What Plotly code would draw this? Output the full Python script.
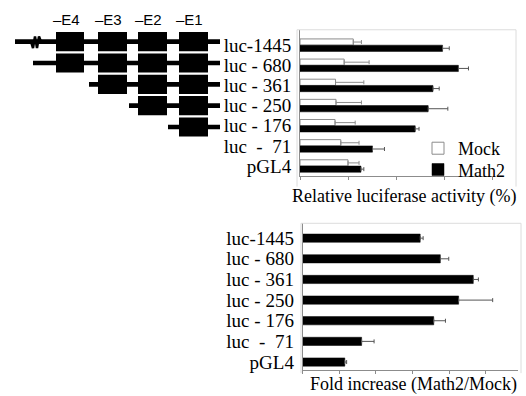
import plotly.graph_objects as go

W, H = 526, 396

# ---------------- data ----------------
constructs = ["luc-1445", "luc - 680", "luc - 361", "luc - 250", "luc - 176",
              "luc\u00a0\u00a0-\u00a0\u00a071", "pGL4"]

# Relative luciferase activity (%)
mock_vals = [111, 92, 74, 75, 73, 85, 100]
mock_err = [17, 52, 59, 53, 42, 38, 23]
math2_vals = [297, 330, 277, 267, 240, 151, 127]
math2_err = [14, 21, 13, 41, 8, 25, 6]

# Fold increase (Math2/Mock)
fold_vals = [3.21, 3.76, 4.66, 4.26, 3.58, 1.61, 1.15]
fold_err = [0.08, 0.23, 0.14, 0.93, 0.32, 0.34, 0.05]

# promoter schematic (schematic units)
exon_labels = ["\u2013E4", "\u2013E3", "\u2013E2", "\u2013E1"]
exon_left = [56, 98, 138, 179]
exon_right = [84, 127, 167, 208]
construct_start = [15, 33, 89, 129, 168]
construct_end = 220
break_x = [31, 33, 35, 37, 39, 41]
break_y = [0.0, 0.3, -0.25, 0.3, -0.25, 0.0]

SERIF = "Liberation Serif, Times New Roman, serif"


def px(p):
    return p / W


def py(p):
    return 1 - p / H


rows = list(range(len(constructs)))
zeros = [0] * len(constructs)

fig = go.Figure()

# top panel
fig.add_trace(go.Bar(
    name="Mock", y=rows, x=mock_vals, orientation="h",
    marker=dict(color="white", line=dict(color="#8c8c8c", width=1)),
    error_x=dict(type="data", symmetric=False, array=mock_err, arrayminus=zeros,
                 color="#8c8c8c", thickness=1, width=2),
    xaxis="x", yaxis="y", legend="legend",
))
fig.add_trace(go.Bar(
    name="Math2", y=rows, x=math2_vals, orientation="h",
    marker=dict(color="black", line=dict(color="black", width=0.5)),
    error_x=dict(type="data", symmetric=False, array=math2_err, arrayminus=zeros,
                 color="#555555", thickness=1, width=2),
    xaxis="x", yaxis="y", legend="legend2",
))

# bottom panel
fig.add_trace(go.Bar(
    name="Fold", y=rows, x=fold_vals, orientation="h", showlegend=False,
    marker=dict(color="black", line=dict(color="black", width=0.5)),
    error_x=dict(type="data", symmetric=False, array=fold_err, arrayminus=zeros,
                 color="#555555", thickness=1, width=2),
    xaxis="x2", yaxis="y2", width=0.4,
))

# schematic: break symbol on first construct
fig.add_trace(go.Scatter(
    x=break_x, y=break_y, mode="lines", line=dict(color="black", width=2.5),
    xaxis="x3", yaxis="y3", showlegend=False, hoverinfo="skip",
))

shapes = []
for i, s in enumerate(construct_start):
    shapes.append(dict(type="rect", xref="x3", yref="y3", x0=s, x1=construct_end,
                       y0=i - 0.11, y1=i + 0.11, fillcolor="black", line_width=0, layer="below"))
    for el, er in zip(exon_left, exon_right):
        if el > s:
            shapes.append(dict(type="rect", xref="x3", yref="y3", x0=el, x1=er,
                               y0=i - 0.45, y1=i + 0.45, fillcolor="black", line_width=0))

frame_col = "#dcdcdc"
for (x0, y0, x1, y1) in [(297, 30, 297, 188), (297, 30, 516, 30), (516, 30, 516, 188),
                         (301, 225, 301, 376), (301, 225, 521, 225), (521, 225, 521, 376)]:
    shapes.append(dict(type="line", xref="paper", yref="paper",
                       x0=px(x0), x1=px(x1), y0=py(y0), y1=py(y1),
                       line=dict(color=frame_col, width=1)))

annotations = []
for lab, el, er in zip(exon_labels, exon_left, exon_right):
    annotations.append(dict(xref="x3", yref="y3", x=(el + er) / 2 - 4, y=-1.02, text=lab,
                            showarrow=False, xanchor="center", yanchor="middle",
                            font=dict(family="Liberation Sans Narrow, Arial Narrow, sans-serif",
                                      size=15, color="black")))
annotations.append(dict(xref="paper", yref="paper", x=px(404), y=py(198),
                        text="Relative luciferase activity (%)", showarrow=False,
                        xanchor="center", yanchor="middle",
                        font=dict(family=SERIF, size=18, color="black")))
annotations.append(dict(xref="paper", yref="paper", x=px(413), y=py(387),
                        text="Fold increase (Math2/Mock)", showarrow=False,
                        xanchor="center", yanchor="middle",
                        font=dict(family=SERIF, size=18, color="black")))

axis_col = "#8c8c8c"
common_x = dict(showgrid=False, zeroline=False, showline=True, linecolor=axis_col, linewidth=1,
                ticks="outside", ticklen=3, tickcolor=axis_col, showticklabels=False,
                fixedrange=True)
common_y = dict(showgrid=False, zeroline=False, showline=True, linecolor=axis_col, linewidth=1,
                ticks="", tickmode="array", tickvals=rows, ticktext=constructs,
                tickfont=dict(family=SERIF, size=19, color="black"),
                ticklabelstandoff=4, fixedrange=True)

legend_style = dict(xanchor="left", yanchor="top", bgcolor="rgba(0,0,0,0)",
                    font=dict(family=SERIF, size=18, color="black"),
                    itemwidth=30, tracegroupgap=0)

fig.update_layout(
    width=W, height=H,
    margin=dict(l=0, r=0, t=0, b=0),
    paper_bgcolor="white", plot_bgcolor="rgba(0,0,0,0)",
    barmode="group", bargap=0.38, bargroupgap=0,
    xaxis=dict(domain=[px(300), px(492)], range=[0, 400], dtick=100, tick0=0,
               anchor="y", **common_x),
    yaxis=dict(domain=[py(177), py(30)], range=[6.478, -0.764], anchor="x", **common_y),
    xaxis2=dict(domain=[px(302.7), px(518.3)], range=[0, 5.89], dtick=1, tick0=0,
                anchor="y2", **common_x),
    yaxis2=dict(domain=[py(372.7), py(225)], range=[6.38, -0.72], anchor="x2", **common_y),
    xaxis3=dict(domain=[0, px(230)], range=[0, 230], visible=False, fixedrange=True, anchor="y3"),
    yaxis3=dict(domain=[py(177), 1], range=[6.28, -1.953], visible=False, fixedrange=True,
                anchor="x3"),
    shapes=shapes,
    annotations=annotations,
    legend=dict(x=px(418), y=py(131), **legend_style),
    legend2=dict(x=px(418), y=py(152.5), **legend_style),
)

fig.write_html("out.html", config={"displayModeBar": False},
               post_script="document.body.style.margin='0';")
